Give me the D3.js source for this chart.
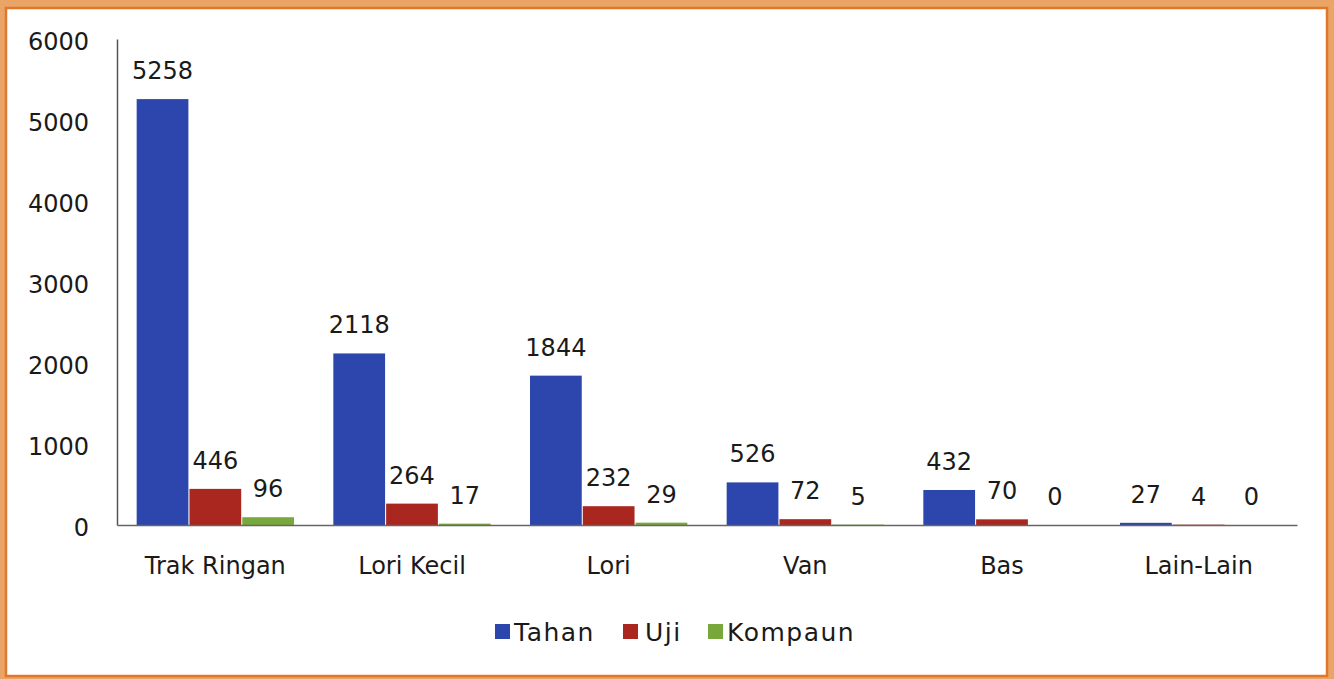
<!DOCTYPE html>
<html lang="ms">

<head>
  <meta charset="utf-8">
  <title>Tahan, Uji, Kompaun</title>
  <script src="https://d3js.org/d3.v7.min.js"></script>
  <style>
    body {
      margin: 0;
      background: #e9a466;
    }
    text {
      font-family: "DejaVu Sans", sans-serif;
      fill: #1a1a1a;
    }
    .tick text {
      font-size: 24px;
    }
    .label {
      font-size: 24px;
      text-anchor: middle;
    }
  </style>
</head>

<body>
  <div id="chart"></div>
  <script>
    // data
    var categories = ['Trak Ringan', 'Lori Kecil', 'Lori', 'Van', 'Bas', 'Lain-Lain'];
    var seriesNames = ['Tahan', 'Uji', 'Kompaun'];
    var tahan = [5258, 2118, 1844, 526, 432, 27];
    var uji = [446, 264, 232, 72, 70, 4];
    var kompaun = [96, 17, 29, 5, 0, 0];
    var yTicks = [0, 1000, 2000, 3000, 4000, 5000, 6000];
    var colors = ['#2c46ad', '#a9271f', '#78a83c'];

    var w = 1334;
    var h = 679;
    var margin = { top: 39, right: 37, bottom: 154, left: 117 };

    var svg = d3.select('#chart').append('svg')
      .attr('width', w)
      .attr('height', h);

    // kotak putih dengan bingkai oren
    svg.append('rect')
      .attr('x', 6)
      .attr('y', 8)
      .attr('width', 1321)
      .attr('height', 668)
      .attr('fill', 'white')
      .attr('stroke', '#e0782c')
      .attr('stroke-width', 2.5);

    var rows = categories.map(function (c, i) {
      return { cat: c, values: [tahan[i], uji[i], kompaun[i]] };
    });

    var x0 = d3.scaleBand()
      .domain(categories)
      .range([margin.left, w - margin.right])
      .paddingInner(0.2)
      .paddingOuter(0.1);

    var x1 = d3.scaleBand()
      .domain(seriesNames)
      .range([0, x0.bandwidth()])
      .paddingInner(0.02);

    var y = d3.scaleLinear()
      .domain([0, 6000])
      .range([h - margin.bottom, margin.top]);

    var g = svg.selectAll('g.group')
      .data(rows)
      .enter().append('g')
      .attr('class', 'group')
      .attr('transform', function (d) {
        return 'translate(' + x0(d.cat) + ',0)';
      });

    g.selectAll('rect.bar')
      .data(function (d) { return d.values; })
      .enter().append('rect')
      .attr('class', 'bar')
      .attr('x', function (d, i) { return x1(seriesNames[i]); })
      .attr('y', function (d) { return y(d); })
      .attr('width', x1.bandwidth())
      .attr('height', function (d) { return y(0) - y(d); })
      .style('fill', function (d, i) { return colors[i]; });

    g.selectAll('text.label')
      .data(function (d) { return d.values; })
      .enter().append('text')
      .attr('class', 'label')
      .attr('x', function (d, i) { return x1(seriesNames[i]) + x1.bandwidth() / 2; })
      .attr('y', function (d) { return y(d) - 20; })
      .text(function (d) { return d; });

    // paksi y
    var yAxis = svg.append('g')
      .attr('transform', 'translate(' + margin.left + ',0)')
      .call(d3.axisLeft(y).tickValues(yTicks).tickFormat(d3.format('d')).tickSize(0).tickPadding(28));
    yAxis.select('.domain').attr('stroke', '#555').attr('stroke-width', 1.5);
    yAxis.selectAll('.tick text').attr('dy', '0.45em');

    // paksi x
    var xAxis = svg.append('g')
      .attr('transform', 'translate(0,' + y(0) + ')')
      .call(d3.axisBottom(x0).tickSize(0).tickPadding(32));
    xAxis.select('.domain').attr('stroke', '#666').attr('stroke-width', 1.5);
    xAxis.selectAll('.tick text').style('font-size', '24px');

    // legenda
    var legendX = [495, 623, 708];
    var legend = svg.selectAll('g.legend')
      .data(seriesNames)
      .enter().append('g')
      .attr('class', 'legend')
      .attr('transform', function (d, i) {
        return 'translate(' + legendX[i] + ',' + 624 + ')';
      });

    legend.append('rect')
      .attr('width', 15)
      .attr('height', 15)
      .style('fill', function (d, i) { return colors[i]; });

    legend.append('text')
      .attr('x', function (d, i) { return i === 1 ? 22 : 19; })
      .attr('y', 17)
      .style('font-size', '25px')
      .style('letter-spacing', '1.5px')
      .text(function (d) { return d; });
  </script>
</body>

</html>
